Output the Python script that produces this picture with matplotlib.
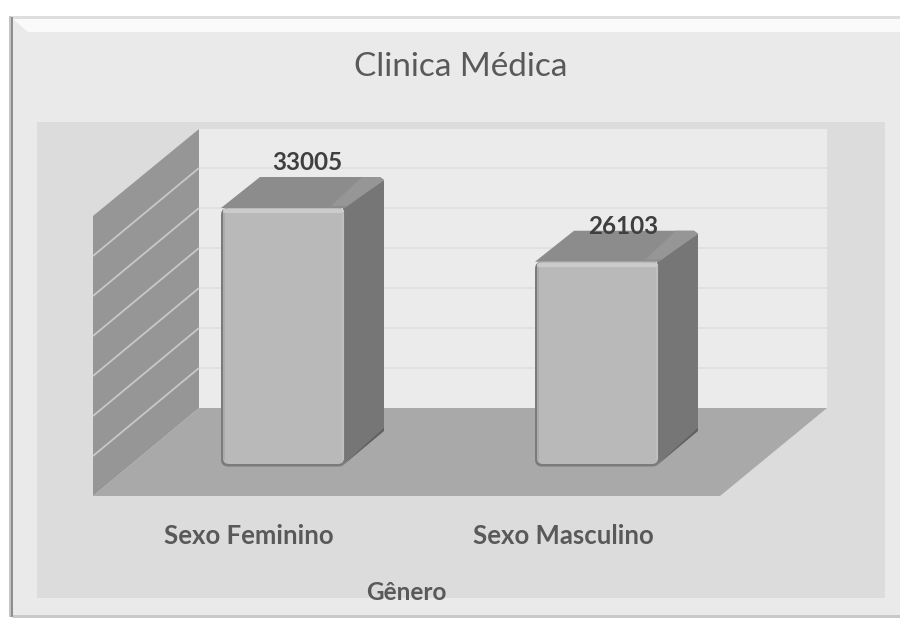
import matplotlib
matplotlib.use("Agg")
import matplotlib.pyplot as plt
from matplotlib.patches import Polygon, Rectangle, FancyBboxPatch

plt.rcParams['font.family'] = ['Lato', 'DejaVu Sans']

title = "Clinica Médica"
categories = ["Sexo Feminino", "Sexo Masculino"]
values = [33005, 26103]
axis_title = "Gênero"
grid_values = [5000, 10000, 15000, 20000, 25000, 30000]

W, H = 900, 619
fig = plt.figure(figsize=(9, 6.19), dpi=100, facecolor='white')


# full figure axes, x in pixels, y is a value scale with 0 at base_px
def value_axes(base_px, px_per_value):
    a = fig.add_axes([0, 0, 1, 1], facecolor='none')
    a.set_xlim(0, W)
    a.set_ylim((base_px - H) / px_per_value, base_px / px_per_value)
    a.axis('off')
    return a


def pixel_axes():
    a = fig.add_axes([0, 0, 1, 1], facecolor='none')
    a.set_xlim(0, W)
    a.set_ylim(H, 0)
    a.axis('off')
    return a


# background in plain pixels
bg = pixel_axes()
bg.add_patch(Rectangle((9, 16), W - 9, 600, fc='#eaeaea', ec='none'))
bg.add_patch(Polygon([(13, 19), (900, 19), (900, 32), (28, 32)], fc='#fafafa', ec='none'))
bg.add_patch(Rectangle((9, 16), W - 9, 3, fc='#dedede', ec='none'))
bg.add_patch(Rectangle((9, 16), 2, 601, fc='#c4c4c4', ec='none'))
bg.add_patch(Rectangle((11, 17), 2, 600, fc='#8e8e8e', ec='none'))
bg.add_patch(Rectangle((13, 615), W - 13, 3, fc='#c9c9c9', ec='none'))
bg.add_patch(Rectangle((37, 122), 848, 476, fc='#dcdcdc', ec='none'))
bg.add_patch(Rectangle((199, 129), 628, 279, fc='#ebebeb', ec='none'))
bg.add_patch(Polygon([(93, 216), (199, 129), (199, 408), (93, 496)], fc='#969696', ec='none'))
bg.add_patch(Polygon([(93, 496), (199, 408), (827, 408), (720, 496)], fc='#a9a9a9', ec='none'))

# gridlines, back wall scale then bent along the side wall
wall = value_axes(408, 40 / 5000)
wall_drop = 88 * 5000 / 40
wall.hlines(grid_values, 199, 827, color='#dfdfdf', lw=1.3)
for v in grid_values:
    wall.plot([93, 199], [v - wall_drop, v], color='#c8c8c8', lw=1.3, solid_capstyle='butt')

# bars
px_per_value = 257 / 33005
bars = value_axes(465, px_per_value)
lefts = [221, 535]
bar_w = 124
dx, dy = 39, 31 / px_per_value
one_px = 1 / px_per_value

for left, val in zip(lefts, values):
    right = left + bar_w
    # side face
    bars.add_patch(Polygon([(right - 2, val), (right + dx, val + dy - 3 * one_px), (right + dx, dy + 4 * one_px),
                            (right - 4, -1 * one_px)], fc='#767676', ec='none'))
    bars.add_patch(Polygon([(right - 4, -2 * one_px), (right + dx, dy + 3 * one_px),
                            (right + dx, dy + 6 * one_px), (right, 2 * one_px)], fc='#5f5f5f', ec='none'))
    # top face
    bars.add_patch(Polygon([(left, val), (left + dx, val + dy), (right + dx - 4, val + dy),
                            (right + dx, val + dy - 3 * one_px), (right, val)], fc='#8c8c8c', ec='none'))
    bars.add_patch(Polygon([(right + dx - 22, val + dy), (right + dx - 4, val + dy),
                            (right + dx, val + dy - 3 * one_px), (right + 2, val + 2 * one_px),
                            (right - 14, val + 2 * one_px)],
                           fc='#969696', ec='none'))
    # front face
    bars.add_patch(FancyBboxPatch((left, -1.5 * one_px), bar_w, val + 1.5 * one_px,
                                  boxstyle='round,pad=0,rounding_size=7', mutation_aspect=one_px,
                                  fc='#7b7b7b', ec='none'))
    bars.add_patch(FancyBboxPatch((left + 2, 1 * one_px), bar_w - 3, val - 1 * one_px,
                                  boxstyle='round,pad=0,rounding_size=6', mutation_aspect=one_px,
                                  fc='#b9b9b9', ec='none'))
    bars.plot([left + 4, right - 3], [val - 3 * one_px] * 2, color='#cbcbcb', lw=3,
              solid_capstyle='round')
    bars.plot([left + 3, left + 3], [6 * one_px, val - 6 * one_px], color='#a9a9a9', lw=1.2)
    bars.plot([right - 2, right - 2], [6 * one_px, val - 6 * one_px], color='#c2c2c2', lw=1.2)

# text, on top of the bars
txt = pixel_axes()
txt.text(461, 67, title, fontsize=24, color='#595959', ha='center', va='center')
label_x = [307, 623]
label_gap = [46, 35]
for left, val, name, lx, gap in zip(lefts, values, categories, label_x, label_gap):
    txt.text(lx, 465 - val * px_per_value - gap, str(val), fontsize=17.5, fontweight='bold',
             color='#3f3f3f', ha='center', va='center')
    txt.text(left + 28, 536, name, fontsize=18.5, fontweight='bold', color='#595959',
             ha='center', va='center')
txt.text(406, 593, axis_title, fontsize=17.5, fontweight='bold', color='#595959',
         ha='center', va='center')

plt.savefig("out.png", dpi=100)
plt.close()
